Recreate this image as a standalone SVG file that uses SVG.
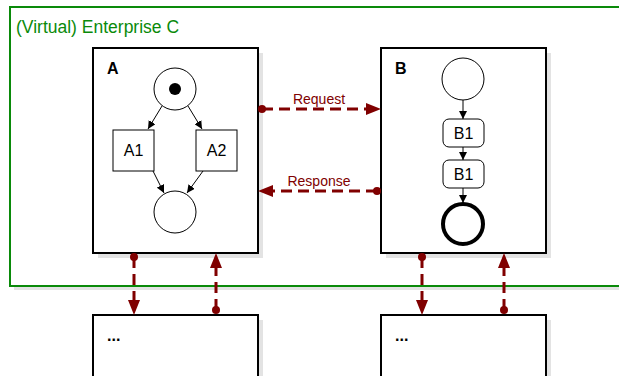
<svg xmlns="http://www.w3.org/2000/svg" width="619" height="376" viewBox="0 0 619 376">
<defs>
<style>
text{font-family:"Liberation Sans",Arial,sans-serif}
.shadow{fill:#e3e3e3;stroke:none}
.box{fill:#fff;stroke:#000;stroke-width:2}
.lbl{font-size:16px;font-weight:bold}
.tl{font-size:17.5px}
.nl{font-size:16px}
.node{fill:#fff;stroke:#000;stroke-width:1}
.flow{stroke:#000;stroke-width:1;fill:none;marker-end:url(#ah)}
.msg{stroke:#800000;stroke-width:3;fill:none;stroke-dasharray:11,6}
.msgl{font-size:14px;fill:#800000}
</style>
<marker id="ah" viewBox="0 0 10 10" refX="10" refY="5" markerWidth="8" markerHeight="8" markerUnits="userSpaceOnUse" orient="auto"><path d="M0,0L10,5L0,10z" fill="#000"/></marker>
</defs>
<g id="enterprise">
<rect class="shadow" x="14" y="11" width="620" height="279"/>
<rect x="10" y="7" width="620" height="279" fill="#fff" stroke="#0a8a0a" stroke-width="2"/>
<text x="16" y="33" class="tl" fill="#0a8a0a">(Virtual) Enterprise C</text>
</g>
<g id="A">
<rect class="shadow" x="98" y="53" width="165" height="205"/>
<rect class="box" x="93" y="48" width="165" height="205"/>
<text x="107" y="74" class="lbl">A</text>
<g id="A-start"><circle class="node" cx="175" cy="89" r="21"/><circle cx="175" cy="89" r="6" fill="#000"/></g>
<g id="A1"><rect class="node" x="113" y="130" width="41" height="41"/><text x="133.5" y="156" class="nl" text-anchor="middle">A1</text></g>
<g id="A2"><rect class="node" x="196" y="130" width="41" height="41"/><text x="216.5" y="156" class="nl" text-anchor="middle">A2</text></g>
<g id="A-end"><circle class="node" cx="175" cy="212" r="21"/></g>
</g>
<g id="B">
<rect class="shadow" x="386" y="53" width="165" height="205"/>
<rect class="box" x="381" y="48" width="165" height="205"/>
<text x="395" y="74" class="lbl">B</text>
<g id="B-start"><circle class="node" cx="463" cy="79" r="21"/></g>
<g id="B1a"><rect class="node" x="443" y="119" width="41" height="28" rx="6"/><text x="463.5" y="139" class="nl" text-anchor="middle">B1</text></g>
<g id="B1b"><rect class="node" x="443" y="160" width="41" height="28" rx="6"/><text x="463.5" y="180" class="nl" text-anchor="middle">B1</text></g>
<g id="B-end"><circle cx="463" cy="224" r="20" fill="#fff" stroke="#000" stroke-width="4"/></g>
</g>
<g id="A-ext">
<rect class="shadow" x="98" y="320" width="165" height="70"/>
<rect class="box" x="93" y="315" width="165" height="70"/>
<text x="107" y="341" class="lbl">...</text>
</g>
<g id="B-ext">
<rect class="shadow" x="386" y="320" width="165" height="70"/>
<rect class="box" x="381" y="315" width="165" height="70"/>
<text x="395" y="341" class="lbl">...</text>
</g>
<g id="connectors">
<line class="flow" x1="162" y1="106" x2="148" y2="129"/>
<line class="flow" x1="188" y1="106" x2="202" y2="129"/>
<line class="flow" x1="153" y1="171" x2="164" y2="193"/>
<line class="flow" x1="203" y1="171" x2="187" y2="193"/>
<line class="flow" x1="463" y1="100" x2="463" y2="119"/>
<line class="flow" x1="463" y1="147" x2="463" y2="160"/>
<line class="flow" x1="463" y1="188" x2="463" y2="203"/>
<line class="msg" x1="262" y1="109" x2="370" y2="109"/>
<path d="M381,109L366,103L366,115z" fill="#800000"/>
<circle cx="262" cy="109" r="4" fill="#800000"/>
<text x="319" y="104" class="msgl" text-anchor="middle">Request</text>
<line class="msg" x1="377" y1="191" x2="270" y2="191"/>
<path d="M258,191L273,185L273,197z" fill="#800000"/>
<circle cx="377" cy="191" r="4" fill="#800000"/>
<text x="319" y="186" class="msgl" text-anchor="middle">Response</text>
<line class="msg" x1="134" y1="257" x2="134" y2="303"/>
<path d="M134,315L128,300L140,300z" fill="#800000"/>
<circle cx="134" cy="257" r="4" fill="#800000"/>
<line class="msg" x1="216" y1="310" x2="216" y2="265"/>
<path d="M216,253L210,268L222,268z" fill="#800000"/>
<circle cx="216" cy="310" r="4" fill="#800000"/>
<line class="msg" x1="422" y1="257" x2="422" y2="303"/>
<path d="M422,315L416,300L428,300z" fill="#800000"/>
<circle cx="422" cy="257" r="4" fill="#800000"/>
<line class="msg" x1="504" y1="310" x2="504" y2="265"/>
<path d="M504,253L498,268L510,268z" fill="#800000"/>
<circle cx="504" cy="310" r="4" fill="#800000"/>
</g>
</svg>
